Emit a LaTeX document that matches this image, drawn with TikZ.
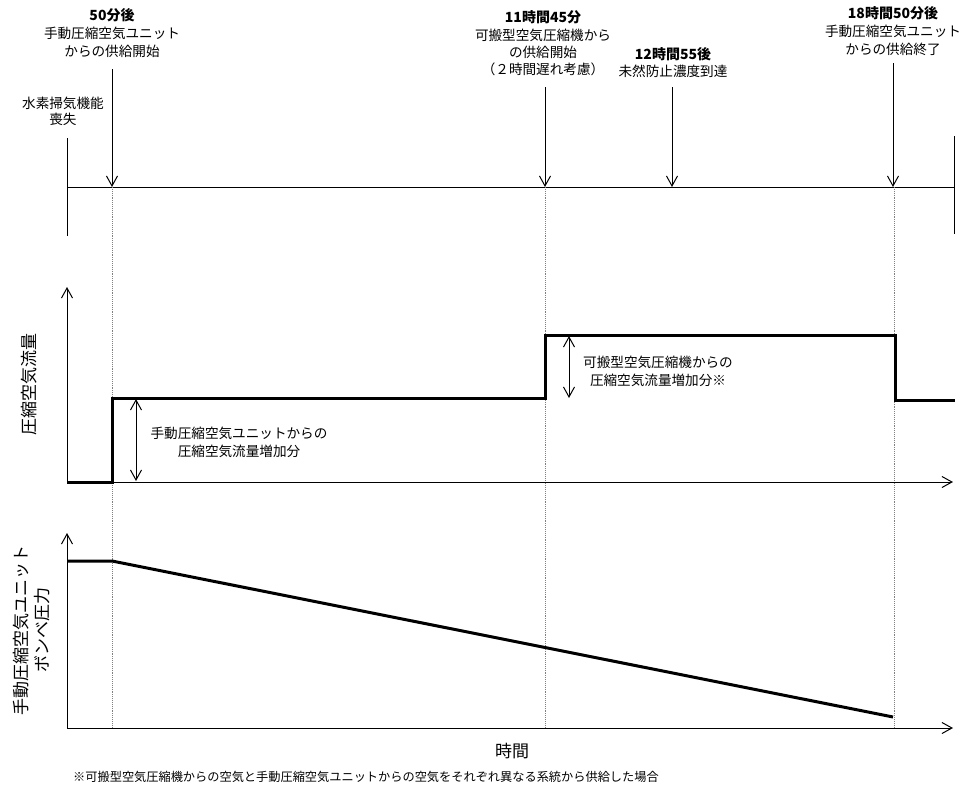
\documentclass[tikz,border=0pt]{standalone}
\usepackage{fontspec}
\setmainfont{Noto Sans CJK JP}
\usetikzlibrary{arrows.meta}
\newcommand{\hdr}[1]{{\fontsize{14}{18}\selectfont\bfseries #1}}
\begin{document}
\begin{tikzpicture}[x=1pt,y=-1pt,
  thin line/.style={line width=1pt,black},
  thick line/.style={line width=3pt,black,line join=miter},
  guide/.style={line width=0.9pt,gray,densely dotted},
  downarrow/.style={line width=1pt,-{Straight Barb[length=10pt,width=11pt,line width=1pt]}},
  axisarrow/.style={line width=1pt,-{Straight Barb[length=10pt,width=11pt,line width=1pt]}},
  dblarrow/.style={line width=1pt,{Straight Barb[length=10pt,width=11pt,line width=1pt]}-{Straight Barb[length=10pt,width=11pt,line width=1pt]}},
  lbl/.style={align=center,inner sep=0pt,font=\fontsize{13.6}{18}\selectfont},
  axlbl/.style={align=center,inner sep=0pt,font=\fontsize{17}{21}\selectfont}]
\useasboundingbox (0,0) rectangle (967,790);

% ---- timeline ----
\coordinate (tlL) at (67,187);
\coordinate (tlR) at (954,187);
\coordinate (tickLt) at (67,138);
\coordinate (tickLb) at (67,236);
\coordinate (tickRt) at (954,136);
\coordinate (tickRb) at (954,234);
\draw[thin line] (tlL) -- (tlR);
\draw[thin line] (tickLt) -- (tickLb);
\draw[thin line] (tickRt) -- (tickRb);

% event arrows
\coordinate (e1s) at (112,69);  \coordinate (e1) at (112,187);
\coordinate (e2s) at (545,87);  \coordinate (e2) at (545,187);
\coordinate (e3s) at (672,87);  \coordinate (e3) at (672,187);
\coordinate (e4s) at (893,63);  \coordinate (e4) at (893,187);
\draw[downarrow] (e1s) -- (e1);
\draw[downarrow] (e2s) -- (e2);
\draw[downarrow] (e3s) -- (e3);
\draw[downarrow] (e4s) -- (e4);

% event labels
\node[lbl] (lab1) at (112,33) {\hdr{50分後}\\手動圧縮空気ユニット\\からの供給開始};
\node[lbl,font=\fontsize{13.6}{16}\selectfont] (lab0) at (63,111) {水素掃気機能\\喪失};
\node[lbl,font=\fontsize{13.6}{17.3}\selectfont] (lab2) at (543,43.5) {\hdr{11時間45分}\\可搬型空気圧縮機から\\の供給開始\\（２時間遅れ考慮）};
\node[lbl,font=\fontsize{13.6}{17}\selectfont] (lab3) at (673,62.5) {\hdr{12時間55後}\\未然防止濃度到達};
\node[lbl] (lab4) at (893,31) {\hdr{18時間50分後}\\手動圧縮空気ユニット\\からの供給終了};

% ---- guides ----
\coordinate (g1) at (112,728);
\coordinate (g2) at (545,728);
\coordinate (g3) at (894,728);
\draw[guide] (e1) -- (g1);
\draw[guide] (e2) -- (g2);
\draw[guide] (894,187) -- (g3);

% ---- middle panel: flow ----
\coordinate (m0) at (67,482);
\coordinate (mtop) at (67,287);
\coordinate (mright) at (953,482);
\draw[axisarrow] (m0) -- (mtop);
\draw[axisarrow] (m0) -- (mright);
\draw[thick line] (m0) -- (112,482) -- (112,398) -- (545,398) -- (545,335) -- (895,335) -- (895,400) -- (955,400);

\coordinate (d1t) at (136,399);
\coordinate (d1b) at (136,481);
\draw[dblarrow] (d1t) -- (d1b);
\node[lbl] (dl1) at (239,442) {手動圧縮空気ユニットからの\\圧縮空気流量増加分};

\coordinate (d2t) at (569,336);
\coordinate (d2b) at (569,398);
\draw[dblarrow] (d2t) -- (d2b);
\node[lbl] (dl2) at (658,371) {可搬型空気圧縮機からの\\圧縮空気流量増加分※};

\node[axlbl,rotate=90] (ylab1) at (29,384) {圧縮空気流量};

% ---- bottom panel: pressure ----
\coordinate (b0) at (67,728);
\coordinate (btop) at (67,533);
\coordinate (bright) at (953,728);
\draw[axisarrow] (b0) -- (btop);
\draw[axisarrow] (b0) -- (bright);
\draw[thick line] (67,561) -- (112,561) -- (893,717);

\node[axlbl,rotate=90] (ylab2) at (32,630) {手動圧縮空気ユニット\\ボンベ圧力};
\node[axlbl] (xlab) at (512,751) {時間};

\node[anchor=west,inner sep=0pt,font=\fontsize{12.2}{14}\selectfont] (note) at (73,777) {※可搬型空気圧縮機からの空気と手動圧縮空気ユニットからの空気をそれぞれ異なる系統から供給した場合};
\end{tikzpicture}
\end{document}
